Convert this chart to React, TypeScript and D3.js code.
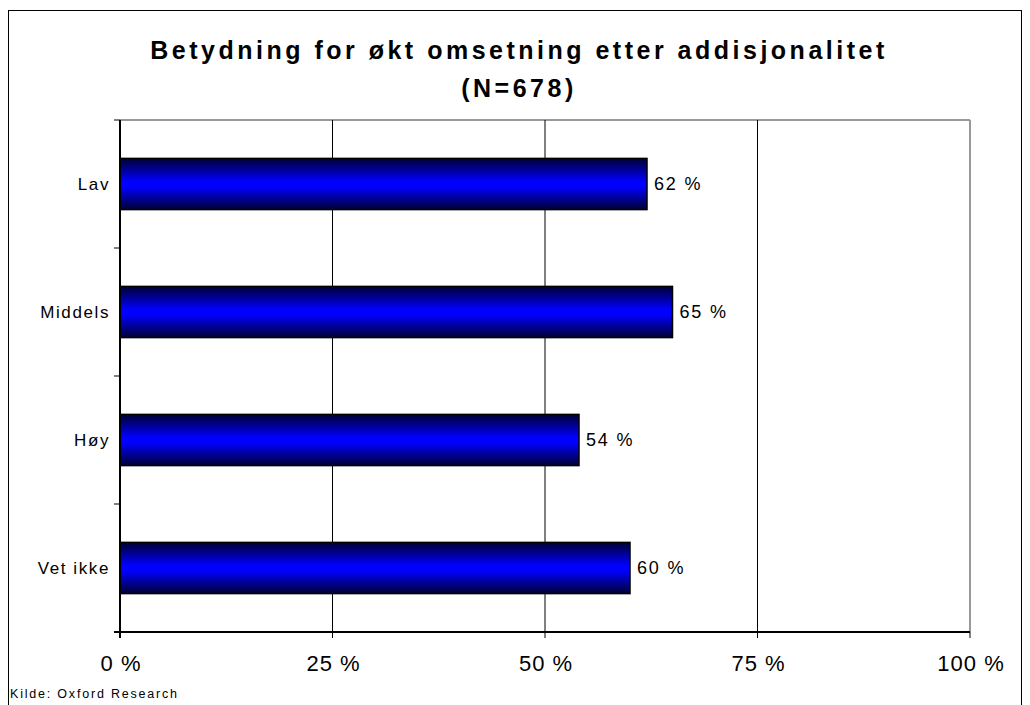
import React from "react";
import * as d3 from "d3";

const categories = ["Lav", "Middels", "Høy", "Vet ikke"];
const values = [62, 65, 54, 60];
const xTicks = [0, 25, 50, 75, 100];
const titleLines = ["Betydning for økt omsetning etter addisjonalitet", "(N=678)"];
const source = "Kilde: Oxford Research";

export default function App() {
  const W = 1030, H = 705;
  const left = 120, right = 970, top = 120, bottom = 632;
  const x = d3.scaleLinear().domain([0, 100]).range([left, right]);
  const y = d3.scaleBand<string>().domain(categories).range([top, bottom]).paddingInner(0.6).paddingOuter(0.3);
  const bandEdges = d3.range(1, categories.length).map((i) => top + (i * (bottom - top)) / categories.length);
  const font = "Liberation Sans, Arial, sans-serif";
  return (
    <svg width={W} height={H} style={{ position: "absolute", left: 0, top: 0 }}>
      <defs>
        <linearGradient id="barGrad" x1="0" y1="0" x2="0" y2="1">
          <stop offset="0" stopColor="#000033" />
          <stop offset="0.45" stopColor="#0000ff" />
          <stop offset="0.55" stopColor="#0000ff" />
          <stop offset="1" stopColor="#000033" />
        </linearGradient>
      </defs>
      <rect x={0} y={0} width={W} height={H} fill="#fff" />
      <rect x={8.5} y={10.5} width={1013} height={720} fill="none" stroke="#000" strokeWidth={1} />
      {titleLines.map((t, i) => (
        <text key={i} x={519} y={59 + i * 38} textAnchor="middle" fontFamily={font} fontWeight="bold" fontSize={25} letterSpacing={3.5} fill="#000">
          {t}
        </text>
      ))}
      {/* plot border top/right */}
      <line x1={left} x2={right} y1={top} y2={top} stroke="#999" strokeWidth={2} />
      <line x1={right} x2={right} y1={top} y2={bottom} stroke="#999" strokeWidth={2} />
      {/* gridlines */}
      {xTicks.filter((t) => t > 0 && t < 100).map((t) => (
        <line key={t} x1={x(t)} x2={x(t)} y1={top} y2={bottom} stroke="#000" strokeWidth={1} />
      ))}
      {/* bars */}
      {categories.map((c, i) => (
        <g key={c}>
          <rect x={x(0)} y={y(c)!} width={x(values[i]) - x(0)} height={y.bandwidth()} fill="url(#barGrad)" stroke="#000" strokeWidth={1.5} />
          <text x={x(values[i]) + 7} y={y(c)! + y.bandwidth() / 2 + 6} fontFamily={font} fontSize={18} letterSpacing={1.8} fill="#000">
            {values[i]} %
          </text>
          <text x={110} y={y(c)! + y.bandwidth() / 2 + 6} textAnchor="end" fontFamily={font} fontSize={17} letterSpacing={1.6} fill="#000">
            {c}
          </text>
        </g>
      ))}
      {/* y axis */}
      <line x1={left} x2={left} y1={top} y2={bottom + 6} stroke="#000" strokeWidth={2} />
      <line x1={left - 6} x2={left} y1={top} y2={top} stroke="#000" strokeWidth={1} />
      {bandEdges.map((b) => (
        <line key={b} x1={left - 6} x2={left} y1={b} y2={b} stroke="#000" strokeWidth={1} />
      ))}
      {/* x axis */}
      <line x1={left - 6} x2={right} y1={bottom} y2={bottom} stroke="#000" strokeWidth={2} />
      {xTicks.map((t) => (
        <g key={t}>
          <line x1={x(t)} x2={x(t)} y1={bottom} y2={bottom + 6} stroke="#000" strokeWidth={1} />
          <text x={x(t) + 1} y={671} textAnchor="middle" fontFamily={font} fontSize={22} letterSpacing={1} fill="#000">
            {t} %
          </text>
        </g>
      ))}
      <text x={10} y={698} fontFamily={font} fontSize={12.5} letterSpacing={1.8} fill="#000">
        {source}
      </text>
    </svg>
  );
}
